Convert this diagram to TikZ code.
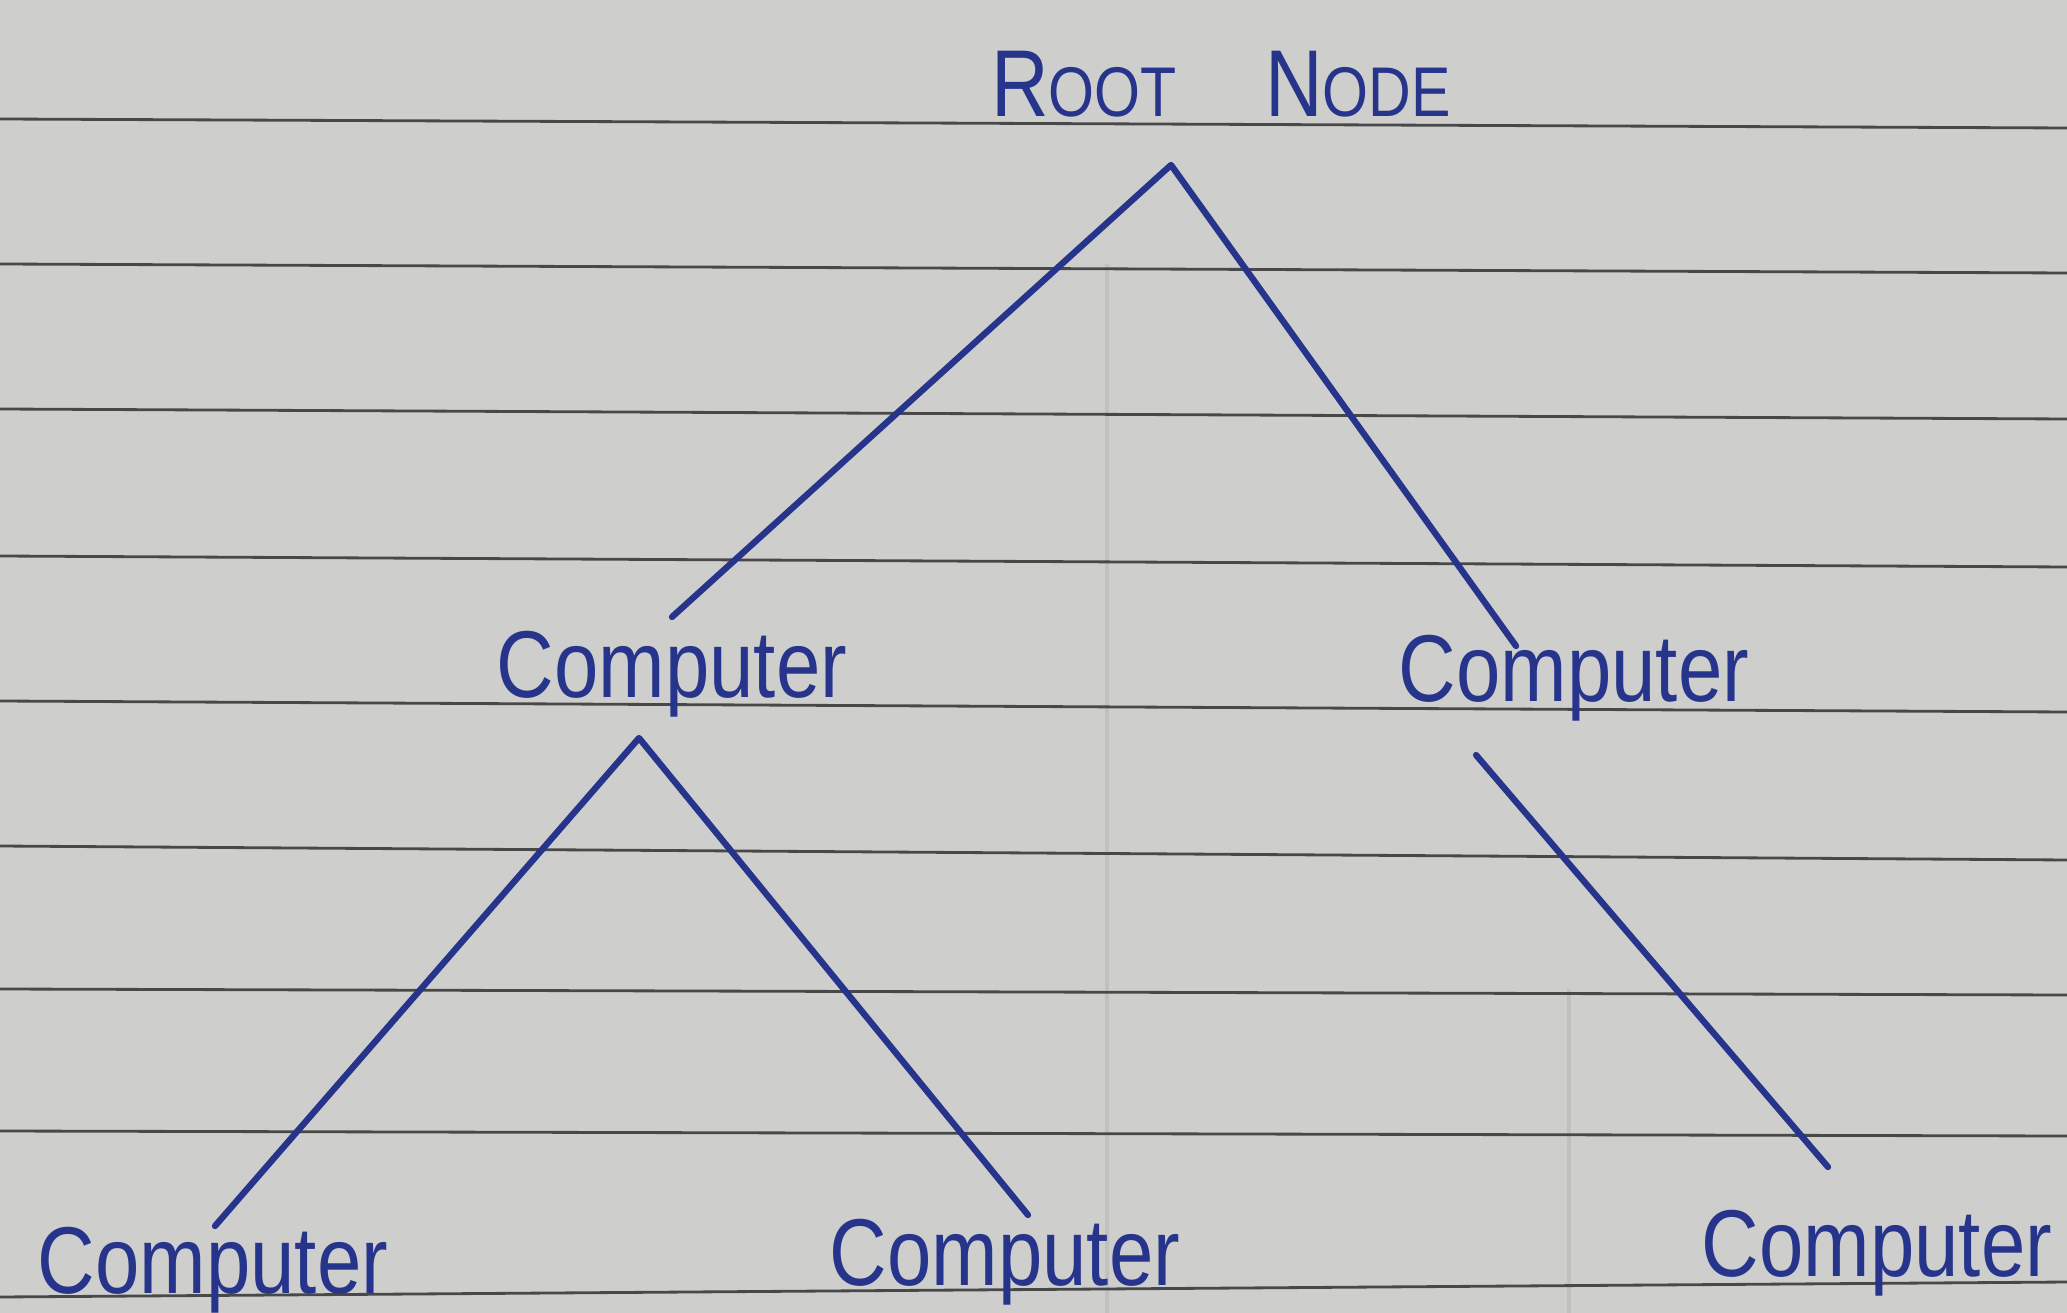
\documentclass[tikz,border=0pt]{standalone}
\usepackage{fontspec}
\setmainfont{Liberation Sans}
\definecolor{paper}{RGB}{206,206,204}
\definecolor{rule}{RGB}{72,72,72}
\definecolor{faint}{RGB}{192,192,190}
\definecolor{ink}{RGB}{38,52,140}
\begin{document}
\begin{tikzpicture}[x=0.01cm,y=-0.01cm,
  ruled/.style={draw=rule,line width=0.8pt},
  faintline/.style={draw=faint,line width=1.2pt},
  label/.style={anchor=base,text=ink,inner sep=0pt,xscale=0.84,transform shape,
    font=\fontsize{27}{30}\selectfont},
  edge/.style={draw=ink,line width=1.8pt,line cap=round,line join=round}]
\fill[paper] (0,0) rectangle (2067,1313);
\useasboundingbox (0,0) rectangle (2067,1313);
% faint vertical margin lines
\draw[faintline] (1107,264) -- (1107,1313);
\draw[faintline] (1569,989) -- (1569,1313);
% ruled lines
\draw[ruled] (0,119) -- (2067,128);
\draw[ruled] (0,264) -- (2067,273);
\draw[ruled] (0,409) -- (2067,419);
\draw[ruled] (0,556) -- (2067,567);
\draw[ruled] (0,701) -- (2067,712);
\draw[ruled] (0,846) -- (2067,860);
\draw[ruled] (0,989) -- (2067,995);
\draw[ruled] (0,1131) -- (2067,1136);
\draw[ruled] (0,1297) -- (2067,1282);
% nodes
\node[label] (root) at (1221,117) {R{\fontsize{20}{22}\selectfont OOT}\hspace{1.05cm}N{\fontsize{20}{22}\selectfont ODE}};
\node[label] (c1) at (672,698) {Computer};
\node[label] (c2) at (1574,702) {Computer};
\node[label] (c3) at (213,1293) {Computer};
\node[label] (c4) at (1005,1285) {Computer};
\node[label] (c5) at (1877,1276) {Computer};
% connector ends
\coordinate (rA) at (1171,165);
\coordinate (rL) at (672,617);
\coordinate (rR) at (1516,646);
\coordinate (aA) at (639,738);
\coordinate (aL) at (215,1226);
\coordinate (aR) at (1028,1215);
\coordinate (bT) at (1476,755);
\coordinate (bB) at (1828,1167);
% connectors
\draw[edge] (rL) -- (rA) -- (rR);
\draw[edge] (aL) -- (aA) -- (aR);
\draw[edge] (bT) -- (bB);
\end{tikzpicture}
\end{document}
